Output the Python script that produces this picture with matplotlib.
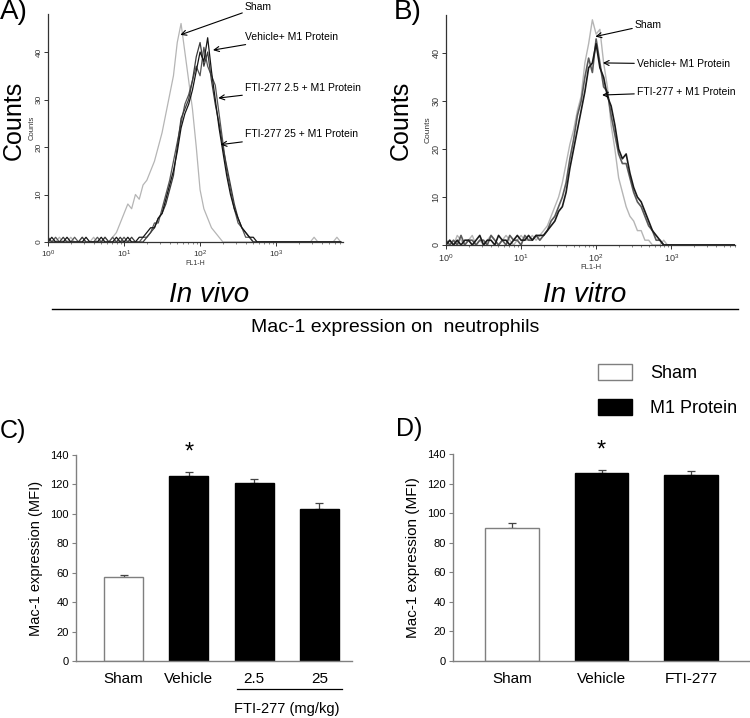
import numpy as np
import matplotlib.pyplot as plt
from matplotlib.patches import Patch
from matplotlib.lines import Line2D
import matplotlib.transforms as mtransforms

plt.rcParams['font.family'] = ['Liberation Sans', 'DejaVu Sans']

# flow cytometry channels (log10 of FL1-H), one value per channel
fl1_log = np.arange(0, 3.9, 0.05)

# Panel A (in vivo) histogram counts
sham_a = [1, 0, 0, 1, 0, 0, 1, 0, 0, 1,
          0, 0, 1, 0, 0, 1, 0, 1, 2, 4,
          6, 8, 7, 10, 9, 12, 13, 15, 17, 20,
          23, 27, 31, 35, 42, 46, 40, 34, 28, 20,
          11, 7, 5, 3, 2, 1, 0, 0, 0, 0,
          0, 0, 0, 0, 0, 0, 0, 0, 0, 0,
          0, 0, 0, 0, 0, 0, 0, 0, 0, 0,
          1, 0, 0, 0, 0, 0, 1, 0]
vehicle_a = [0, 1, 0, 0, 0, 1, 0, 0, 0, 0,
             1, 0, 0, 0, 1, 0, 0, 0, 1, 0,
             0, 1, 0, 0, 1, 1, 2, 3, 3, 5,
             6, 9, 12, 15, 19, 24, 27, 29, 32, 36,
             40, 38, 43, 36, 30, 24, 19, 14, 10, 7,
             5, 3, 2, 1, 1, 0, 0, 0, 0, 0,
             0, 0, 0, 0, 0, 0, 0, 0, 0, 0,
             0, 0, 0, 0, 0, 0, 0, 0]
fti25_low_a = [0, 0, 1, 0, 0, 0, 0, 1, 0, 0,
               0, 0, 0, 1, 0, 0, 0, 1, 0, 0,
               1, 0, 0, 0, 0, 1, 1, 2, 4, 4,
               7, 10, 13, 17, 21, 25, 29, 31, 34, 37,
               35, 41, 37, 35, 33, 27, 21, 15, 11, 7,
               4, 3, 1, 1, 0, 0, 0, 0, 0, 0,
               0, 0, 0, 0, 0, 0, 0, 0, 0, 0,
               0, 0, 0, 0, 0, 0, 0, 0]
fti25_high_a = [1, 0, 0, 0, 1, 0, 0, 0, 0, 1,
                0, 0, 0, 0, 0, 1, 0, 0, 0, 1,
                0, 0, 1, 0, 0, 0, 1, 2, 3, 5,
                6, 8, 11, 14, 20, 26, 28, 30, 34, 39,
                42, 37, 40, 34, 29, 25, 20, 16, 12, 8,
                5, 3, 2, 1, 0, 0, 0, 0, 0, 0,
                0, 0, 0, 0, 0, 0, 0, 0, 0, 0,
                0, 0, 0, 0, 0, 0, 0, 0]

# Panel B (in vitro) histogram counts
sham_b = [0, 1, 0, 2, 1, 0, 1, 2, 0, 1,
          0, 1, 2, 1, 0, 1, 2, 1, 0, 1,
          2, 1, 1, 2, 1, 2, 3, 4, 6, 8,
          10, 13, 17, 21, 24, 28, 31, 38, 42, 47,
          44, 45, 38, 33, 25, 20, 14, 11, 8, 6,
          5, 3, 3, 1, 1, 0, 0, 0, 1, 0,
          0, 0, 0, 0, 0, 0, 0, 0, 0, 0,
          0, 0, 0, 0, 0, 0, 0, 0]
vehicle_b = [0, 1, 0, 1, 0, 1, 1, 0, 1, 2,
             0, 1, 1, 0, 2, 1, 1, 0, 1, 2,
             1, 1, 2, 1, 2, 2, 2, 3, 4, 5,
             7, 8, 11, 16, 20, 24, 28, 32, 37, 38,
             42, 37, 35, 31, 29, 25, 20, 18, 19, 15,
             12, 10, 9, 7, 5, 3, 2, 1, 0, 0,
             0, 0, 0, 0, 0, 0, 0, 0, 0, 0,
             0, 0, 0, 0, 0, 0, 0, 0]
fti_b = [1, 0, 1, 0, 2, 0, 1, 1, 0, 1,
         1, 0, 2, 1, 0, 1, 0, 2, 1, 1,
         0, 2, 1, 1, 2, 1, 2, 3, 5, 6,
         8, 10, 13, 18, 22, 27, 30, 35, 39, 36,
         43, 38, 33, 32, 27, 23, 19, 17, 17, 14,
         11, 9, 8, 6, 4, 3, 1, 1, 0, 0,
         0, 0, 0, 0, 0, 0, 0, 0, 0, 0,
         0, 0, 0, 0, 0, 0, 0, 0]

# Panel C / D bar data (MFI, mean and SEM)
c_labels = ['Sham', 'Vehicle', '2.5', '25']
c_means = [57, 126, 121, 103]
c_sems = [1.5, 2.5, 2.5, 4.5]
c_groups = ['Sham', 'M1', 'M1', 'M1']

d_labels = ['Sham', 'Vehicle', 'FTI-277']
d_means = [90, 127, 126]
d_sems = [3, 2, 2.5]
d_groups = ['Sham', 'M1', 'M1']

W, H = 750, 718
fig = plt.figure(figsize=(W / 100, H / 100), dpi=100)


def px_rect(x0, y0, x1, y1):
    # pixel box (top-left origin) -> figure fraction rect
    return [x0 / W, 1 - y1 / H, (x1 - x0) / W, (y1 - y0) / H]


def flow_axes(rect, curves, xmax_log, labelsize):
    ax = fig.add_axes(rect)
    x = 10 ** fl1_log
    for vals, col, lw in curves:
        ax.plot(x, vals, color=col, lw=lw)
    ax.set_xscale('log')
    ax.set_xlim(1, 10 ** xmax_log)
    ax.set_ylim(0, 48)
    ax.set_yticks([0, 10, 20, 30, 40])
    for s in ['top', 'right']:
        ax.spines[s].set_visible(False)
    for s in ['left', 'bottom']:
        ax.spines[s].set_color('#333333')
        ax.spines[s].set_linewidth(0.9)
    ax.tick_params(axis='y', labelrotation=90, labelsize=labelsize, length=3,
                   width=0.7, pad=1, colors='#333333')
    ax.tick_params(axis='x', which='major', labelsize=labelsize, length=3,
                   width=0.7, pad=2, colors='#333333')
    ax.tick_params(axis='x', which='minor', length=1.5, width=0.5, colors='#555555')
    for lab in ax.get_yticklabels():
        lab.set_va('center')
    ax.set_ylabel('Counts', fontsize=labelsize - 0.5, labelpad=0, color='#333333')
    ax.set_xlabel('FL1-H', fontsize=labelsize - 1, labelpad=0, color='#333333')
    return ax


def label_arrow(ax, text, xy_log, xytext):
    ax.annotate(text, xy=(10 ** xy_log[0], xy_log[1]), xytext=xytext,
                textcoords='axes fraction', fontsize=7.5, va='center', ha='left',
                arrowprops=dict(arrowstyle='->', color='black', lw=0.8,
                                shrinkA=0, shrinkB=0, mutation_scale=9),
                annotation_clip=False)


# ---- Panel A
ax_a = flow_axes(px_rect(48, 14, 343, 242),
                 [(sham_a, '#b5b5b5', 0.9),
                  (fti25_low_a, '#555555', 0.9),
                  (fti25_high_a, '#3a3a3a', 0.9),
                  (vehicle_a, '#151515', 0.9)], 3.88, 6)
label_arrow(ax_a, 'Sham', (1.74, 43.6), (0.668, 1.03))
label_arrow(ax_a, 'Vehicle+ M1 Protein', (2.17, 40.4), (0.668, 0.90))
label_arrow(ax_a, 'FTI-277 2.5 + M1 Protein', (2.24, 30.3), (0.668, 0.675))
label_arrow(ax_a, 'FTI-277 25 + M1 Protein', (2.27, 20.5), (0.668, 0.472))

# ---- Panel B
ax_b = flow_axes(px_rect(446, 15, 735, 245),
                 [(sham_b, '#b5b5b5', 1.0),
                  (fti_b, '#5a5a5a', 1.2),
                  (vehicle_b, '#1a1a1a', 1.2)], 3.85, 6.5)
label_arrow(ax_b, 'Sham', (1.99, 43.5), (0.654, 0.957))
label_arrow(ax_b, 'Vehicle+ M1 Protein', (2.09, 38), (0.661, 0.787))
label_arrow(ax_b, 'FTI-277 + M1 Protein', (2.08, 31.3), (0.661, 0.665))

# big labels around the flow panels
fig.text(0 / W, 1 - 12 / H, 'A)', fontsize=20, va='center', ha='left')
fig.text(394 / W, 1 - 12 / H, 'B)', fontsize=20, va='center', ha='left')
fig.text(14 / W, 1 - 120 / H, 'Counts', fontsize=18, rotation=90, va='center', ha='center')
fig.text(401 / W, 1 - 120 / H, 'Counts', fontsize=18, rotation=90, va='center', ha='center')

fig.text(209 / W, 1 - 295 / H, 'In vivo', fontsize=20, style='italic',
         va='center', ha='center')
fig.text(585 / W, 1 - 295 / H, 'In vitro', fontsize=20, style='italic',
         va='center', ha='center')
fig.add_artist(Line2D([52 / W, 738 / W], [1 - 309 / H, 1 - 309 / H], color='black', lw=1.0))
fig.text(395 / W, 1 - 328 / H, 'Mac-1 expression on  neutrophils', fontsize=14,
         va='center', ha='center')

colors = {'Sham': 'white', 'M1': 'black'}
edges = {'Sham': '#7f7f7f', 'M1': 'black'}


def bar_axes(rect, labels, means, sems, groups, xlim, ylabsize):
    ax = fig.add_axes(rect)
    x = np.arange(len(labels))
    ax.bar(x, means, width=0.6, color=[colors[g] for g in groups],
           edgecolor=[edges[g] for g in groups], linewidth=1.0, zorder=2)
    ax.errorbar(x, means, yerr=[np.zeros(len(sems)), sems], fmt='none',
                ecolor='#444444', elinewidth=0.9, capsize=3, capthick=0.9, zorder=1)
    ax.set_xlim(*xlim)
    ax.set_ylim(0, 140)
    ax.set_yticks(range(0, 141, 20))
    ax.set_xticks(x)
    ax.set_xticklabels(labels, fontsize=11)
    for s in ['top', 'right']:
        ax.spines[s].set_visible(False)
    for s in ['left', 'bottom']:
        ax.spines[s].set_color('#808080')
        ax.spines[s].set_linewidth(1.0)
    ax.tick_params(axis='x', length=0, pad=8)
    ax.tick_params(axis='y', length=3, color='#808080', labelsize=8, pad=2)
    ax.set_ylabel('Mac-1 expression (MFI)', fontsize=ylabsize, labelpad=5)
    # significance star above vehicle bar
    ax.text(1, means[1] + sems[1] + 6, '*', fontsize=17, ha='center', va='bottom')
    return ax


# ---- Panel C
ax_c = bar_axes(px_rect(76, 455, 352, 661), c_labels, c_means, c_sems, c_groups,
                (-0.73, 3.5), 10.5)
tr = mtransforms.blended_transform_factory(ax_c.transData, ax_c.transAxes)
ax_c.add_line(Line2D([1.73, 3.35], [-0.135, -0.135], transform=tr, color='black',
                     lw=0.9, clip_on=False))
ax_c.text(2.5, -0.232, 'FTI-277 (mg/kg)', transform=tr, fontsize=10.5, ha='center', va='center')
fig.text(0 / W, 1 - 431 / H, 'C)', fontsize=18, va='center', ha='left')

# ---- Panel D
ax_d = bar_axes(px_rect(453, 454, 750, 661), d_labels, d_means, d_sems, d_groups,
                (-0.66, 2.66), 11)
fig.text(396 / W, 1 - 429 / H, 'D)', fontsize=18, va='center', ha='left')

handles = [Patch(facecolor='white', edgecolor='#7f7f7f', lw=1.0),
           Patch(facecolor='black', edgecolor='black')]
fig.legend(handles, ['Sham', 'M1 Protein'], loc='upper left',
           bbox_to_anchor=(598 / W, 1 - 364 / H), frameon=False, fontsize=13,
           handlelength=1.9, handleheight=1.0, handletextpad=1.0, labelspacing=0.9,
           borderpad=0, borderaxespad=0)

plt.savefig('out.png', dpi=100)
